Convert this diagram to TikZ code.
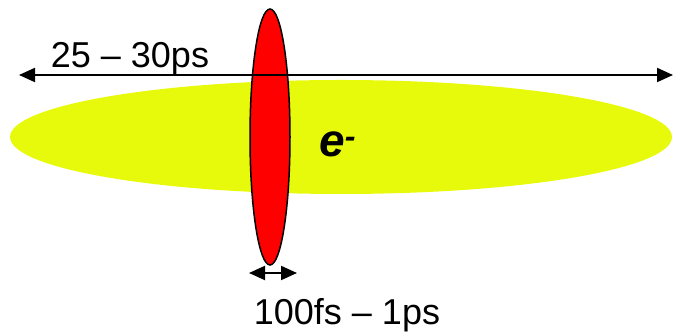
\documentclass[tikz,border=0pt]{standalone}
\usepackage{fontspec}
\setmainfont{Liberation Sans}
\usetikzlibrary{arrows.meta,shapes.geometric}
\definecolor{bunchyellow}{RGB}{232,250,12}
\begin{document}
\begin{tikzpicture}[x=1pt, y=1pt,
    span/.style={{Triangle[length=16pt,width=14pt]}-{Triangle[length=16pt,width=14pt]}, line width=2pt},
    lbl/.style={font=\fontsize{36}{40}\selectfont, anchor=base, inner sep=0pt}]
    \useasboundingbox (0,0) rectangle (673,336);
    % electron bunch
    \fill[bunchyellow] (341,199) ellipse (331 and 57);
    % laser pulse
    \filldraw[fill=red, draw=black, line width=1.5pt] (270,199) ellipse (20 and 128);
    \node[font=\fontsize{46}{50}\selectfont\bfseries\itshape, anchor=base west, inner sep=0pt] (elec) at (319,179) {e\textsuperscript{-}};

    % bunch length
    \coordinate (bl) at (19,261);
    \coordinate (br) at (673,261);
    \draw[span] (bl) -- (br);
    \node[lbl] (bunchlen) at (130,268) {25 – 30ps};

    % pulse length
    \coordinate (pl) at (249,63);
    \coordinate (pr) at (297,63);
    \draw[span] (pl) -- (pr);
    \node[lbl] (pulselen) at (347,11) {100fs – 1ps};
\end{tikzpicture}
\end{document}
